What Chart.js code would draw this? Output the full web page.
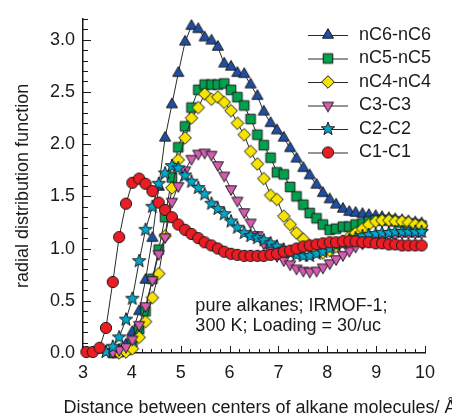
<!DOCTYPE html>
<html>
<head>
<meta charset="utf-8">
<title>Radial distribution functions</title>
<script src="https://cdn.jsdelivr.net/npm/chart.js@4.4.0/dist/chart.umd.min.js"></script>
<style>
  html, body { margin: 0; padding: 0; background: #fff; }
  #wrap { width: 452px; height: 418px; }
</style>
</head>
<body>
<div id="wrap"><canvas id="rdf" width="452" height="418"></canvas></div>
<script>
// distance between centres (Å)
const distance = [
  3.07, 3.20, 3.34, 3.47, 3.61, 3.74, 3.88, 4.01, 4.15, 4.28,
  4.42, 4.55, 4.68, 4.82, 4.95, 5.09, 5.22, 5.36, 5.49, 5.63,
  5.76, 5.89, 6.03, 6.16, 6.30, 6.43, 6.57, 6.70, 6.84, 6.97,
  7.11, 7.24, 7.37, 7.51, 7.64, 7.78, 7.91, 8.05, 8.18, 8.32,
  8.45, 8.58, 8.72, 8.85, 8.99, 9.12, 9.26, 9.39, 9.53, 9.66,
  9.80, 9.93
];

// g(r) for each pair
const nC6 = [
  null, null, null, null, 0.01, 0.03, 0.08, 0.20, 0.40, 0.70,
  1.10, 1.59, 2.06, 2.38, 2.68, 2.98, 3.13, 3.10, 3.02, 2.99,
  2.93, 2.77, 2.74, 2.68, 2.67, 2.57, 2.46, 2.31, 2.20, 2.13,
  2.06, 1.96, 1.86, 1.77, 1.70, 1.61, 1.53, 1.47, 1.42, 1.38,
  1.35, 1.34, 1.33, 1.32, 1.31, 1.30, 1.29, 1.28, 1.27, 1.26,
  1.25, 1.24
];
const nC5 = [
  null, null, null, null, 0.00, 0.01, 0.03, 0.10, 0.23, 0.40,
  0.71, 0.99, 1.30, 1.68, 1.97, 2.17, 2.35, 2.52, 2.57, 2.57,
  2.57, 2.58, 2.52, 2.45, 2.37, 2.24, 2.09, 1.99, 1.87, 1.73,
  1.71, 1.59, 1.50, 1.42, 1.34, 1.29, 1.23, 1.18, 1.19, 1.21,
  1.21, 1.23, 1.24, 1.26, 1.27, 1.27, 1.27, 1.26, 1.25, 1.24,
  1.23, 1.22
];
const nC4 = [
  null, null, null, null, null, 0.00, 0.01, 0.04, 0.15, 0.30,
  0.53, 0.76, 1.12, 1.58, 1.85, 2.06, 2.25, 2.35, 2.48, 2.43,
  2.45, 2.40, 2.32, 2.20, 2.09, 1.93, 1.81, 1.67, 1.51, 1.47,
  1.31, 1.23, 1.15, 1.09, 1.01, 0.98, 0.96, 0.98, 1.02, 1.07,
  1.11, 1.15, 1.19, 1.23, 1.26, 1.27, 1.27, 1.26, 1.26, 1.25,
  1.23, 1.22
];
const C3 = [
  null, null, null, null, 0.01, 0.03, 0.06, 0.13, 0.27, 0.45,
  0.70, 0.95, 1.11, 1.45, 1.60, 1.75, 1.86, 1.91, 1.92, 1.90,
  1.80, 1.70, 1.57, 1.46, 1.35, 1.25, 1.13, 1.05, 0.98, 0.93,
  0.89, 0.85, 0.81, 0.79, 0.78, 0.79, 0.82, 0.86, 0.90, 0.94,
  0.98, 1.02, 1.05, 1.08, 1.10, 1.12, 1.13, 1.14, 1.15, 1.15,
  1.15, 1.15
];
const C2 = [
  null, null, null, 0.01, 0.06, 0.15, 0.32, 0.52, 0.88, 1.18,
  1.40, 1.62, 1.72, 1.79, 1.77, 1.70, 1.64, 1.58, 1.52, 1.43,
  1.38, 1.33, 1.26, 1.20, 1.15, 1.12, 1.10, 1.08, 1.05, 1.02,
  0.99, 0.96, 0.94, 0.93, 0.93, 0.95, 0.97, 1.00, 1.03, 1.05,
  1.08, 1.10, 1.12, 1.13, 1.14, 1.15, 1.15, 1.16, 1.16, 1.16,
  1.16, 1.16
];
const C1 = [
  0.01, 0.01, 0.05, 0.24, 0.68, 1.11, 1.43, 1.63, 1.67, 1.62,
  1.55, 1.44, 1.37, 1.30, 1.23, 1.18, 1.14, 1.10, 1.06, 1.03,
  1.00, 0.97, 0.95, 0.94, 0.93, 0.93, 0.93, 0.93, 0.94, 0.95,
  0.97, 0.98, 1.00, 1.02, 1.03, 1.04, 1.05, 1.06, 1.06, 1.07,
  1.07, 1.07, 1.06, 1.06, 1.05, 1.05, 1.04, 1.04, 1.03, 1.03,
  1.03, 1.03
];

const seriesNames = ['nC6-nC6', 'nC5-nC5', 'nC4-nC4', 'C3-C3', 'C2-C2', 'C1-C1'];
const xTickValues = [3, 4, 5, 6, 7, 8, 9, 10];
const yTickValues = [0, 0.5, 1, 1.5, 2, 2.5, 3];
const noteLines = ['pure alkanes; IRMOF-1;', '300 K; Loading = 30/uc'];

const FONT = '"Liberation Sans", Arial, sans-serif';
const INK = '#1a1a1a';

// little canvases used as point styles (and in the legend)
function makeMarker(shape, fill) {
	const c = document.createElement('canvas');
	c.width = 16;
	c.height = 16;
	const g = c.getContext('2d');
	g.translate(8, 8);
	g.beginPath();
	if (shape === 'up' || shape === 'down') {
		const r = 6.4;
		const s = shape === 'up' ? -1 : 1;
		g.moveTo(0, s * r);
		g.lineTo(r * 0.866, -s * r / 2);
		g.lineTo(-r * 0.866, -s * r / 2);
		g.closePath();
	} else if (shape === 'square') {
		g.rect(-4.8, -4.8, 9.6, 9.6);
	} else if (shape === 'diamond') {
		g.moveTo(0, -6.3);
		g.lineTo(6.3, 0);
		g.lineTo(0, 6.3);
		g.lineTo(-6.3, 0);
		g.closePath();
	} else if (shape === 'star') {
		for (let i = 0; i < 10; i++) {
			const r = i % 2 === 0 ? 7 : 2.9;
			const a = -Math.PI / 2 + i * Math.PI / 5;
			if (i === 0) { g.moveTo(r * Math.cos(a), r * Math.sin(a)); }
			else { g.lineTo(r * Math.cos(a), r * Math.sin(a)); }
		}
		g.closePath();
	} else {
		g.arc(0, 0, 5.6, 0, Math.PI * 2);
	}
	g.fillStyle = fill;
	g.fill();
	g.lineWidth = 1;
	g.strokeStyle = '#1b1b1b';
	g.stroke();
	return c;
}

const series = [
	{ values: nC6, marker: makeMarker('up', '#1f4fa5') },
	{ values: nC5, marker: makeMarker('square', '#00a14e') },
	{ values: nC4, marker: makeMarker('diamond', '#f6e500') },
	{ values: C3, marker: makeMarker('down', '#d65cb3') },
	{ values: C2, marker: makeMarker('star', '#00a9cc') },
	{ values: C1, marker: makeMarker('circle', '#ec1c24') }
];

// inward minor/major tick marks, drawn under the markers
const innerTicks = {
	id: 'innerTicks',
	beforeDatasetsDraw(chart) {
		const { ctx, chartArea: a, scales: { x, y } } = chart;
		ctx.save();
		ctx.strokeStyle = INK;
		ctx.lineWidth = 1;
		ctx.beginPath();
		for (let i = 0; i <= 35; i++) {
			const px = Math.round(x.getPixelForValue(3 + i * 0.2)) + 0.5;
			ctx.moveTo(px, a.bottom);
			ctx.lineTo(px, a.bottom - (i % 5 === 0 ? 7 : 4));
		}
		for (let i = 0; i <= 32; i++) {
			const py = Math.round(y.getPixelForValue(i * 0.1)) + 0.5;
			ctx.moveTo(a.left, py);
			ctx.lineTo(a.left + (i % 5 === 0 ? 8 : 5), py);
		}
		ctx.stroke();
		ctx.restore();
	}
};

// titles, legend and the note
const decorations = {
	id: 'decorations',
	afterDraw(chart) {
		const { ctx, chartArea: a, scales: { x, y } } = chart;
		ctx.save();
		ctx.fillStyle = INK;
		ctx.font = '18px ' + FONT;
		ctx.textBaseline = 'middle';

		// axis titles
		ctx.textAlign = 'center';
		ctx.fillText('Distance between centers of alkane molecules/ \u00C5', (a.left + a.right) / 2 + 6, 408);
		ctx.save();
		ctx.translate(23, (a.top + a.bottom) / 2);
		ctx.rotate(-Math.PI / 2);
		ctx.fillText('radial distribution function', 0, 0);
		ctx.restore();

		// legend
		ctx.textAlign = 'left';
		series.forEach((s, i) => {
			const ly = 35 + i * 23.5;
			const lx = a.right - 117;
			ctx.strokeStyle = '#2a2a2a';
			ctx.lineWidth = 1;
			ctx.beginPath();
			ctx.moveTo(lx, ly + 0.5);
			ctx.lineTo(lx + 40, ly + 0.5);
			ctx.stroke();
			ctx.drawImage(s.marker, lx + 20 - 8, ly - 8);
			ctx.fillText(seriesNames[i], lx + 51, ly);
		});

		// note
		const nx = x.getPixelForValue(5.3);
		ctx.fillText(noteLines[0], nx, y.getPixelForValue(0.45));
		ctx.fillText(noteLines[1], nx, y.getPixelForValue(0.26));
		ctx.restore();
	}
};

new Chart(document.getElementById('rdf'), {
	type: 'line',
	data: {
		datasets: series.map((s, i) => ({
			label: seriesNames[i],
			data: distance.map((d, k) => ({ x: d, y: s.values[k] })),
			borderColor: '#2a2a2a',
			borderWidth: 1,
			fill: false,
			tension: 0,
			pointStyle: s.marker,
			pointRadius: 6,
			pointHoverRadius: 6,
			clip: false,
			order: series.length - 1 - i
		}))
	},
	options: {
		responsive: false,
		animation: false,
		events: [],
		layout: { padding: { top: 11, right: 27, left: 0, bottom: 0 } },
		plugins: {
			legend: { display: false },
			tooltip: { enabled: false }
		},
		scales: {
			x: {
				type: 'linear',
				min: 3,
				max: 10,
				afterFit: (s) => { s.height = 65; },
				afterBuildTicks: (s) => { s.ticks = xTickValues.map(v => ({ value: v })); },
				grid: { display: false, drawTicks: false },
				border: { display: true, color: INK, width: 1.5 },
				ticks: {
					padding: 9,
					maxRotation: 0,
					color: INK,
					font: { family: FONT, size: 18 },
					callback: (v) => String(v)
				}
			},
			y: {
				type: 'linear',
				min: 0,
				max: 3.2,
				afterFit: (s) => { s.width = 83; },
				afterBuildTicks: (s) => { s.ticks = yTickValues.map(v => ({ value: v })); },
				grid: { display: false, drawTicks: false },
				border: { display: true, color: INK, width: 1.5 },
				ticks: {
					padding: 8,
					color: INK,
					font: { family: FONT, size: 18 },
					callback: (v) => Number(v).toFixed(1)
				}
			}
		}
	},
	plugins: [innerTicks, decorations]
});
</script>
</body>
</html>
